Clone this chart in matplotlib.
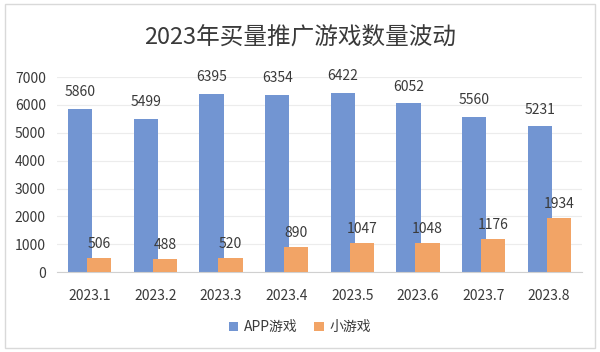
import matplotlib
matplotlib.use('Agg')
import matplotlib.pyplot as plt
import numpy as np

plt.rcParams['font.family'] = ['Noto Sans CJK SC', 'DejaVu Sans']

months = ['2023.1', '2023.2', '2023.3', '2023.4', '2023.5', '2023.6', '2023.7', '2023.8']
app_games = [5860, 5499, 6395, 6354, 6422, 6052, 5560, 5231]
mini_games = [506, 488, 520, 890, 1047, 1048, 1176, 1934]

blue = '#7295d2'
orange = '#f2a466'
text_c = '#3a3a3a'

fig = plt.figure(figsize=(6, 3.52), dpi=100)
fig.patches.append(plt.Rectangle((0.008, 0.012), 0.984, 0.976, transform=fig.transFigure,
                                 fill=False, edgecolor='#d9d9d9', lw=1))
ax = fig.add_axes([0.095, 0.227, 0.875, 0.554])

x = np.arange(len(months))
w = 0.37
off = 0.145
b1 = ax.bar(x - off, app_games, w, color=blue, label='APP游戏', zorder=2)
b2 = ax.bar(x + off, mini_games, w, color=orange, label='小游戏', zorder=3)

for xi, v in zip(x, app_games):
    ax.annotate(str(v), (xi - off, v), xytext=(0, 7), textcoords='offset points',
                ha='center', va='bottom', fontsize=10, color=text_c, annotation_clip=False)
for xi, v in zip(x, mini_games):
    ax.annotate(str(v), (xi + off, v), xytext=(0, 5), textcoords='offset points',
                ha='center', va='bottom', fontsize=10, color=text_c, annotation_clip=False)

ax.set_xlim(-0.5, len(months) - 0.5)
ax.set_ylim(0, 7000)
ax.set_yticks(range(0, 7001, 1000))
ax.set_xticks(x)
ax.set_xticklabels(months)
ax.tick_params(axis='both', length=0, labelsize=10, labelcolor=text_c)
ax.tick_params(axis='x', pad=12)
ax.tick_params(axis='y', pad=8)
ax.grid(axis='y', color='#ececec', lw=0.8, zorder=0)
for s in ['top', 'right', 'left']:
    ax.spines[s].set_visible(False)
ax.spines['bottom'].set_color('#d0d0d0')

fig.text(0.5, 0.895, '2023年买量推广游戏数量波动', ha='center', va='center',
         fontsize=17, color=text_c)

fig.legend(handles=[b1, b2], loc='center', bbox_to_anchor=(0.5, 0.07), ncol=2,
           frameon=False, fontsize=10, handlelength=0.7, handleheight=0.7,
           handletextpad=0.4, columnspacing=1.2, labelcolor=text_c)

fig.savefig('out.png', dpi=100, facecolor='white')
